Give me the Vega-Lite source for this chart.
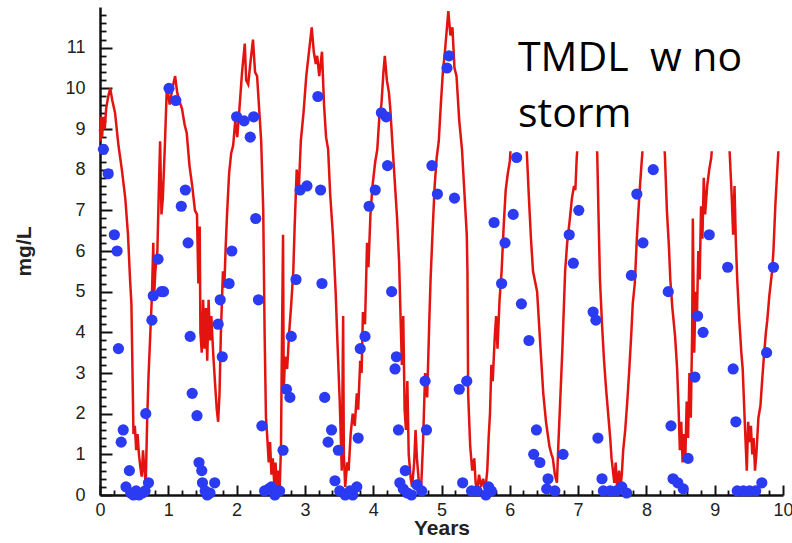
{
  "$schema": "https://vega.github.io/schema/vega-lite/v6.json",
  "width": 683,
  "height": 488,
  "autosize": {"type": "none"},
  "padding": {"left": 100, "top": 7, "right": 9, "bottom": 41},
  "background": "white",
  "view": {"stroke": null},
  "config": {"font": "Liberation Sans"},
  "resolve": {"axis": {"x": "independent", "y": "independent"}},
  "datasets": {
    "model": [
      {"t":0.00,"v":9.0},{"t":0.01,"v":8.7},{"t":0.02,"v":9.3},{"t":0.03,"v":8.8},{"t":0.05,"v":9.3},{"t":0.07,"v":9.0},{"t":0.09,"v":9.5},{"t":0.12,"v":9.8},{"t":0.15,"v":10.0},{"t":0.18,"v":9.7},{"t":0.22,"v":9.4},{"t":0.27,"v":8.6},{"t":0.32,"v":8.0},{"t":0.37,"v":7.3},{"t":0.41,"v":6.4},{"t":0.44,"v":5.3},{"t":0.46,"v":4.7},{"t":0.48,"v":2.6},{"t":0.49,"v":1.5},{"t":0.51,"v":1.7},{"t":0.53,"v":1.1},{"t":0.55,"v":1.5},{"t":0.57,"v":1.0},{"t":0.59,"v":0.7},{"t":0.61,"v":0.45},{"t":0.63,"v":1.1},{"t":0.65,"v":0.6},{"t":0.67,"v":0.3},{"t":0.69,"v":1.8},{"t":0.71,"v":2.9},{"t":0.73,"v":3.7},{"t":0.76,"v":4.9},{"t":0.78,"v":6.2},{"t":0.79,"v":4.8},{"t":0.81,"v":5.5},{"t":0.84,"v":6.0},{"t":0.86,"v":7.4},{"t":0.88,"v":8.7},{"t":0.90,"v":6.9},{"t":0.92,"v":7.3},{"t":0.95,"v":8.6},{"t":0.98,"v":10.1},{"t":1.02,"v":9.6},{"t":1.06,"v":10.0},{"t":1.10,"v":10.3},{"t":1.13,"v":9.9},{"t":1.16,"v":9.7},{"t":1.20,"v":9.5},{"t":1.24,"v":9.1},{"t":1.27,"v":8.9},{"t":1.31,"v":8.1},{"t":1.35,"v":7.6},{"t":1.39,"v":7.0},{"t":1.42,"v":6.9},{"t":1.44,"v":5.2},{"t":1.46,"v":6.6},{"t":1.47,"v":4.0},{"t":1.49,"v":3.5},{"t":1.51,"v":4.8},{"t":1.53,"v":3.6},{"t":1.55,"v":4.6},{"t":1.57,"v":3.3},{"t":1.59,"v":4.8},{"t":1.61,"v":3.8},{"t":1.63,"v":4.4},{"t":1.66,"v":3.4},{"t":1.69,"v":2.6},{"t":1.71,"v":2.1},{"t":1.73,"v":1.8},{"t":1.75,"v":2.5},{"t":1.77,"v":4.0},{"t":1.80,"v":5.5},{"t":1.82,"v":5.1},{"t":1.84,"v":6.1},{"t":1.86,"v":6.9},{"t":1.89,"v":7.9},{"t":1.92,"v":8.4},{"t":1.95,"v":8.6},{"t":1.98,"v":9.2},{"t":2.01,"v":8.8},{"t":2.05,"v":9.7},{"t":2.08,"v":10.4},{"t":2.12,"v":11.1},{"t":2.14,"v":10.2},{"t":2.17,"v":10.1},{"t":2.20,"v":10.6},{"t":2.24,"v":11.2},{"t":2.27,"v":10.4},{"t":2.30,"v":10.3},{"t":2.33,"v":9.5},{"t":2.36,"v":8.7},{"t":2.39,"v":7.0},{"t":2.41,"v":4.0},{"t":2.43,"v":1.9},{"t":2.45,"v":1.4},{"t":2.47,"v":0.8},{"t":2.49,"v":1.3},{"t":2.51,"v":0.5},{"t":2.53,"v":0.9},{"t":2.55,"v":0.3},{"t":2.57,"v":0.8},{"t":2.59,"v":0.2},{"t":2.61,"v":0.6},{"t":2.63,"v":0.1},{"t":2.65,"v":1.2},{"t":2.66,"v":3.1},{"t":2.68,"v":6.4},{"t":2.69,"v":2.6},{"t":2.71,"v":3.4},{"t":2.74,"v":3.1},{"t":2.77,"v":4.0},{"t":2.80,"v":4.7},{"t":2.83,"v":5.5},{"t":2.85,"v":6.6},{"t":2.88,"v":8.0},{"t":2.91,"v":7.5},{"t":2.94,"v":8.7},{"t":2.98,"v":9.4},{"t":3.02,"v":10.3},{"t":3.06,"v":10.9},{"t":3.10,"v":11.5},{"t":3.13,"v":10.9},{"t":3.16,"v":10.6},{"t":3.18,"v":10.8},{"t":3.21,"v":10.3},{"t":3.25,"v":10.9},{"t":3.28,"v":9.6},{"t":3.31,"v":8.8},{"t":3.34,"v":8.5},{"t":3.37,"v":7.4},{"t":3.41,"v":6.4},{"t":3.45,"v":5.0},{"t":3.48,"v":3.6},{"t":3.51,"v":2.3},{"t":3.54,"v":0.6},{"t":3.56,"v":4.4},{"t":3.57,"v":1.0},{"t":3.59,"v":0.2},{"t":3.62,"v":0.8},{"t":3.64,"v":0.6},{"t":3.67,"v":1.5},{"t":3.70,"v":2.0},{"t":3.73,"v":1.7},{"t":3.76,"v":2.5},{"t":3.78,"v":2.1},{"t":3.81,"v":3.3},{"t":3.83,"v":3.0},{"t":3.85,"v":4.5},{"t":3.88,"v":4.2},{"t":3.91,"v":6.2},{"t":3.93,"v":5.6},{"t":3.96,"v":6.9},{"t":3.99,"v":7.6},{"t":4.03,"v":8.2},{"t":4.06,"v":8.5},{"t":4.09,"v":9.3},{"t":4.12,"v":9.6},{"t":4.15,"v":10.4},{"t":4.17,"v":10.8},{"t":4.20,"v":10.2},{"t":4.23,"v":9.9},{"t":4.25,"v":9.5},{"t":4.29,"v":8.4},{"t":4.32,"v":7.6},{"t":4.35,"v":6.8},{"t":4.38,"v":5.7},{"t":4.40,"v":4.4},{"t":4.42,"v":3.2},{"t":4.44,"v":4.4},{"t":4.46,"v":2.1},{"t":4.48,"v":1.6},{"t":4.50,"v":2.8},{"t":4.52,"v":1.0},{"t":4.55,"v":0.4},{"t":4.57,"v":0.2},{"t":4.60,"v":0.8},{"t":4.62,"v":1.6},{"t":4.64,"v":0.9},{"t":4.67,"v":0.3},{"t":4.70,"v":0.1},{"t":4.73,"v":1.3},{"t":4.76,"v":3.0},{"t":4.79,"v":2.4},{"t":4.82,"v":4.2},{"t":4.84,"v":5.3},{"t":4.87,"v":6.5},{"t":4.90,"v":7.6},{"t":4.93,"v":8.3},{"t":4.96,"v":8.7},{"t":4.99,"v":9.6},{"t":5.02,"v":10.4},{"t":5.05,"v":10.9},{"t":5.08,"v":11.5},{"t":5.10,"v":11.9},{"t":5.13,"v":11.3},{"t":5.16,"v":11.5},{"t":5.19,"v":10.5},{"t":5.22,"v":10.3},{"t":5.26,"v":9.2},{"t":5.30,"v":8.5},{"t":5.33,"v":7.6},{"t":5.37,"v":6.4},{"t":5.38,"v":5.5},{"t":5.39,"v":2.5},{"t":5.42,"v":1.2},{"t":5.45,"v":0.6},{"t":5.48,"v":0.9},{"t":5.50,"v":0.3},{"t":5.52,"v":0.1},{"t":5.55,"v":0.5},{"t":5.58,"v":0.2},{"t":5.61,"v":0.4},{"t":5.64,"v":0.1},{"t":5.67,"v":0.6},{"t":5.69,"v":1.4},{"t":5.71,"v":2.0},{"t":5.73,"v":3.2},{"t":5.75,"v":2.8},{"t":5.78,"v":3.9},{"t":5.80,"v":4.4},{"t":5.82,"v":3.6},{"t":5.85,"v":4.8},{"t":5.88,"v":5.5},{"t":5.91,"v":6.6},{"t":5.94,"v":7.5},{"t":5.97,"v":7.9},{"t":6.00,"v":8.2},{"t":6.03,"v":9.0},{"t":6.06,"v":9.8},{"t":6.10,"v":10.5},{"t":6.13,"v":10.8},{"t":6.16,"v":10.2},{"t":6.20,"v":9.4},{"t":6.23,"v":8.8},{"t":6.25,"v":8.4},{"t":6.28,"v":7.3},{"t":6.31,"v":6.3},{"t":6.34,"v":5.5},{"t":6.40,"v":5.0},{"t":6.45,"v":3.6},{"t":6.49,"v":2.5},{"t":6.53,"v":1.8},{"t":6.58,"v":1.2},{"t":6.61,"v":1.0},{"t":6.63,"v":0.9},{"t":6.66,"v":0.5},{"t":6.69,"v":0.3},{"t":6.71,"v":1.2},{"t":6.73,"v":2.0},{"t":6.77,"v":3.6},{"t":6.81,"v":5.5},{"t":6.84,"v":6.2},{"t":6.88,"v":6.8},{"t":6.91,"v":7.3},{"t":6.94,"v":7.6},{"t":6.96,"v":7.5},{"t":6.98,"v":8.3},{"t":7.02,"v":9.2},{"t":7.06,"v":10.0},{"t":7.10,"v":10.6},{"t":7.14,"v":10.9},{"t":7.18,"v":10.4},{"t":7.22,"v":9.6},{"t":7.26,"v":8.9},{"t":7.28,"v":8.4},{"t":7.30,"v":6.8},{"t":7.32,"v":5.3},{"t":7.35,"v":4.2},{"t":7.38,"v":3.3},{"t":7.41,"v":2.6},{"t":7.44,"v":2.0},{"t":7.47,"v":1.4},{"t":7.49,"v":0.9},{"t":7.51,"v":0.6},{"t":7.53,"v":0.3},{"t":7.55,"v":0.8},{"t":7.57,"v":0.2},{"t":7.60,"v":0.6},{"t":7.62,"v":0.2},{"t":7.64,"v":0.5},{"t":7.66,"v":1.1},{"t":7.69,"v":1.6},{"t":7.72,"v":2.3},{"t":7.75,"v":3.1},{"t":7.78,"v":4.0},{"t":7.80,"v":4.7},{"t":7.83,"v":5.2},{"t":7.86,"v":6.3},{"t":7.88,"v":6.9},{"t":7.91,"v":7.7},{"t":7.94,"v":8.4},{"t":7.98,"v":9.3},{"t":8.02,"v":10.1},{"t":8.06,"v":10.7},{"t":8.10,"v":10.9},{"t":8.14,"v":10.5},{"t":8.18,"v":9.9},{"t":8.22,"v":9.2},{"t":8.25,"v":8.7},{"t":8.27,"v":8.4},{"t":8.30,"v":7.0},{"t":8.33,"v":6.1},{"t":8.35,"v":5.3},{"t":8.38,"v":4.6},{"t":8.42,"v":3.9},{"t":8.45,"v":3.1},{"t":8.47,"v":2.2},{"t":8.49,"v":1.1},{"t":8.51,"v":1.8},{"t":8.53,"v":0.8},{"t":8.55,"v":1.5},{"t":8.57,"v":0.9},{"t":8.59,"v":2.3},{"t":8.61,"v":1.4},{"t":8.63,"v":3.0},{"t":8.65,"v":1.9},{"t":8.67,"v":4.0},{"t":8.68,"v":6.8},{"t":8.70,"v":3.5},{"t":8.72,"v":5.0},{"t":8.74,"v":4.4},{"t":8.76,"v":6.0},{"t":8.78,"v":5.3},{"t":8.80,"v":7.1},{"t":8.82,"v":6.3},{"t":8.84,"v":7.8},{"t":8.86,"v":6.9},{"t":8.89,"v":7.6},{"t":8.92,"v":8.0},{"t":8.95,"v":8.3},{"t":8.98,"v":9.0},{"t":9.02,"v":9.8},{"t":9.06,"v":10.4},{"t":9.10,"v":10.7},{"t":9.14,"v":10.2},{"t":9.18,"v":9.4},{"t":9.22,"v":8.4},{"t":9.25,"v":7.3},{"t":9.27,"v":6.4},{"t":9.29,"v":7.6},{"t":9.31,"v":6.2},{"t":9.33,"v":5.3},{"t":9.36,"v":4.3},{"t":9.39,"v":3.5},{"t":9.41,"v":3.1},{"t":9.44,"v":1.8},{"t":9.47,"v":0.6},{"t":9.49,"v":1.8},{"t":9.51,"v":1.3},{"t":9.53,"v":1.7},{"t":9.55,"v":1.0},{"t":9.57,"v":1.4},{"t":9.59,"v":0.6},{"t":9.61,"v":1.0},{"t":9.62,"v":1.3},{"t":9.64,"v":1.9},{"t":9.67,"v":2.2},{"t":9.69,"v":2.7},{"t":9.72,"v":3.4},{"t":9.75,"v":4.0},{"t":9.77,"v":4.3},{"t":9.80,"v":4.9},{"t":9.84,"v":5.5},{"t":9.86,"v":6.0},{"t":9.89,"v":7.2},{"t":9.93,"v":8.4},{"t":9.96,"v":9.0},{"t":10.00,"v":9.6}
    ],
    "obs": [
      {"t":0.05,"v":8.5},{"t":0.12,"v":7.9},{"t":0.21,"v":6.4},{"t":0.25,"v":6.0},{"t":0.27,"v":3.6},{"t":0.31,"v":1.3},{"t":0.34,"v":1.6},{"t":0.38,"v":0.2},{"t":0.43,"v":0.6},{"t":0.45,"v":0.05},{"t":0.49,"v":0.0},{"t":0.53,"v":0.1},{"t":0.57,"v":0.0},{"t":0.62,"v":0.05},{"t":0.66,"v":0.1},{"t":0.71,"v":0.3},{"t":0.67,"v":2.0},{"t":0.76,"v":4.3},{"t":0.78,"v":4.9},{"t":0.85,"v":5.8},{"t":0.90,"v":5.0},{"t":0.93,"v":5.0},
      {"t":1.01,"v":10.0},{"t":1.11,"v":9.7},{"t":1.19,"v":7.1},{"t":1.25,"v":7.5},{"t":1.29,"v":6.2},{"t":1.32,"v":3.9},{"t":1.35,"v":2.5},{"t":1.42,"v":1.95},{"t":1.45,"v":0.8},{"t":1.49,"v":0.6},{"t":1.50,"v":0.3},{"t":1.54,"v":0.1},{"t":1.57,"v":0.0},{"t":1.61,"v":0.05},{"t":1.68,"v":0.3},{"t":1.73,"v":4.2},{"t":1.76,"v":4.8},{"t":1.79,"v":3.4},{"t":1.89,"v":5.2},{"t":1.93,"v":6.0},
      {"t":2.00,"v":9.3},{"t":2.11,"v":9.2},{"t":2.20,"v":8.8},{"t":2.25,"v":9.3},{"t":2.28,"v":6.8},{"t":2.32,"v":4.8},{"t":2.37,"v":1.7},{"t":2.41,"v":0.1},{"t":2.47,"v":0.15},{"t":2.51,"v":0.2},{"t":2.56,"v":0.0},{"t":2.63,"v":0.1},{"t":2.68,"v":1.1},{"t":2.73,"v":2.6},{"t":2.78,"v":2.4},{"t":2.80,"v":3.9},{"t":2.87,"v":5.3},{"t":2.93,"v":7.5},
      {"t":3.03,"v":7.6},{"t":3.19,"v":9.8},{"t":3.23,"v":7.5},{"t":3.25,"v":5.2},{"t":3.29,"v":2.4},{"t":3.34,"v":1.3},{"t":3.39,"v":1.6},{"t":3.44,"v":0.35},{"t":3.49,"v":1.1},{"t":3.51,"v":0.1},{"t":3.59,"v":0.0},{"t":3.66,"v":0.1},{"t":3.70,"v":0.0},{"t":3.76,"v":0.2},{"t":3.78,"v":1.4},{"t":3.81,"v":3.6},{"t":3.88,"v":3.9},{"t":3.94,"v":7.1},
      {"t":4.03,"v":7.5},{"t":4.12,"v":9.4},{"t":4.19,"v":9.3},{"t":4.21,"v":8.1},{"t":4.27,"v":5.0},{"t":4.32,"v":3.1},{"t":4.34,"v":3.4},{"t":4.37,"v":1.6},{"t":4.39,"v":0.3},{"t":4.47,"v":0.6},{"t":4.44,"v":0.15},{"t":4.50,"v":0.05},{"t":4.56,"v":0.0},{"t":4.64,"v":0.25},{"t":4.71,"v":0.1},{"t":4.76,"v":2.8},{"t":4.78,"v":1.6},{"t":4.86,"v":8.1},{"t":4.94,"v":7.4},
      {"t":5.08,"v":10.5},{"t":5.11,"v":10.8},{"t":5.19,"v":7.3},{"t":5.26,"v":2.6},{"t":5.31,"v":0.3},{"t":5.37,"v":2.8},{"t":5.44,"v":0.1},{"t":5.52,"v":0.1},{"t":5.65,"v":0.0},{"t":5.69,"v":0.2},{"t":5.73,"v":0.1},{"t":5.77,"v":6.7},{"t":5.88,"v":5.2},{"t":5.93,"v":6.2},
      {"t":6.05,"v":6.9},{"t":6.10,"v":8.3},{"t":6.17,"v":4.7},{"t":6.28,"v":3.8},{"t":6.35,"v":1.0},{"t":6.39,"v":1.6},{"t":6.44,"v":0.8},{"t":6.54,"v":0.15},{"t":6.56,"v":0.4},{"t":6.66,"v":0.1},{"t":6.78,"v":1.0},{"t":6.87,"v":6.4},{"t":6.93,"v":5.7},
      {"t":7.01,"v":7.0},{"t":7.22,"v":4.5},{"t":7.26,"v":4.3},{"t":7.29,"v":1.4},{"t":7.35,"v":0.4},{"t":7.37,"v":0.1},{"t":7.47,"v":0.1},{"t":7.56,"v":0.1},{"t":7.64,"v":0.2},{"t":7.71,"v":0.05},{"t":7.78,"v":5.4},{"t":7.86,"v":7.4},{"t":7.95,"v":6.2},
      {"t":8.10,"v":8.0},{"t":8.32,"v":5.0},{"t":8.36,"v":1.7},{"t":8.39,"v":0.4},{"t":8.46,"v":0.3},{"t":8.54,"v":0.15},{"t":8.61,"v":0.9},{"t":8.71,"v":2.9},{"t":8.75,"v":4.4},{"t":8.83,"v":4.0},{"t":8.92,"v":6.4},
      {"t":9.19,"v":5.6},{"t":9.27,"v":3.1},{"t":9.31,"v":1.8},{"t":9.33,"v":0.1},{"t":9.42,"v":0.1},{"t":9.51,"v":0.1},{"t":9.60,"v":0.1},{"t":9.69,"v":0.3},{"t":9.76,"v":3.5},{"t":9.86,"v":5.6}
    ]
  },
  "layer": [
    {
      "data": {"name": "model"},
      "mark": {"type": "line", "color": "#e3140f", "strokeWidth": 2.5, "interpolate": "linear"},
      "encoding": {
        "x": {
          "field": "t", "type": "quantitative", "title": "Years",
          "scale": {"domain": [0, 10], "nice": false, "zero": false},
          "axis": {
            "orient": "bottom",
            "values": [0,1,2,3,4,5,6,7,8,9,10],
            "format": "d",
            "tickSize": -10, "tickWidth": 2, "tickColor": "#111", "domainColor": "#111", "domainWidth": 2.5,
            "labelFontSize": 18, "labelColor": "#222", "labelPadding": 16, "labelOverlap": false, "labelFlush": false, "labelBound": false,
            "titleFontSize": 21, "titleFontWeight": "bold", "titleColor": "#222", "titlePadding": -2, "grid": false
          }
        },
        "y": {
          "field": "v", "type": "quantitative", "title": "mg/L",
          "scale": {"domain": [0, 12], "nice": false, "zero": false},
          "axis": {
            "orient": "left",
            "values": [0,1,2,3,4,5,6,7,8,9,10,11],
            "format": "d",
            "tickSize": -12, "tickWidth": 2, "tickColor": "#111", "domainColor": "#111", "domainWidth": 2.5,
            "labelFontSize": 18, "labelColor": "#222", "labelPadding": 27, "labelOverlap": false, "labelFlush": false, "labelBound": false,
            "titleFontSize": 21, "titleFontWeight": "bold", "titleColor": "#222", "titlePadding": 30, "grid": false
          }
        }
      }
    },
    {
      "data": {"name": "obs"},
      "mark": {"type": "circle", "color": "#2b3af3", "opacity": 1, "size": 125},
      "encoding": {
        "x": {
          "field": "t", "type": "quantitative", "title": null,
          "axis": {
            "orient": "bottom", "title": null, "labels": false, "domain": false, "grid": false,
            "values": [0.2,0.4,0.6,0.8,1.2,1.4,1.6,1.8,2.2,2.4,2.6,2.8,3.2,3.4,3.6,3.8,4.2,4.4,4.6,4.8,5.2,5.4,5.6,5.8,6.2,6.4,6.6,6.8,7.2,7.4,7.6,7.8,8.2,8.4,8.6,8.8,9.2,9.4,9.6,9.8],
            "tickSize": -5, "tickWidth": 1.8, "tickColor": "#111"
          }
        },
        "y": {
          "field": "v", "type": "quantitative", "title": null,
          "axis": {
            "orient": "left", "title": null, "labels": false, "domain": false, "grid": false,
            "values": [0.2,0.4,0.6,0.8,1.2,1.4,1.6,1.8,2.2,2.4,2.6,2.8,3.2,3.4,3.6,3.8,4.2,4.4,4.6,4.8,5.2,5.4,5.6,5.8,6.2,6.4,6.6,6.8,7.2,7.4,7.6,7.8,8.2,8.4,8.6,8.8,9.2,9.4,9.6,9.8,10.2,10.4,10.6,10.8,11.2,11.4,11.6,11.8],
            "tickSize": -6, "tickWidth": 1.8, "tickColor": "#111"
          }
        }
      }
    },
    {
      "data": {"values": [{}]},
      "mark": {"type": "rect", "color": "white", "opacity": 1},
      "encoding": {
        "x": {"datum": 5.86, "type": "quantitative", "axis": null},
        "x2": {"datum": 10.2},
        "y": {"datum": 8.45, "type": "quantitative", "axis": null},
        "y2": {"datum": 11.77}
      }
    },
    {
      "data": {"values": [{}]},
      "mark": {"type": "text", "text": ["TMDL\u00a0 w no", "storm"], "align": "left", "baseline": "alphabetic", "font": "Open Sans", "fontSize": 41, "lineHeight": 56, "color": "#000"},
      "encoding": {
        "x": {"datum": 6.12, "type": "quantitative", "axis": null},
        "y": {"datum": 10.42, "type": "quantitative", "axis": null}
      }
    }
  ]
}
